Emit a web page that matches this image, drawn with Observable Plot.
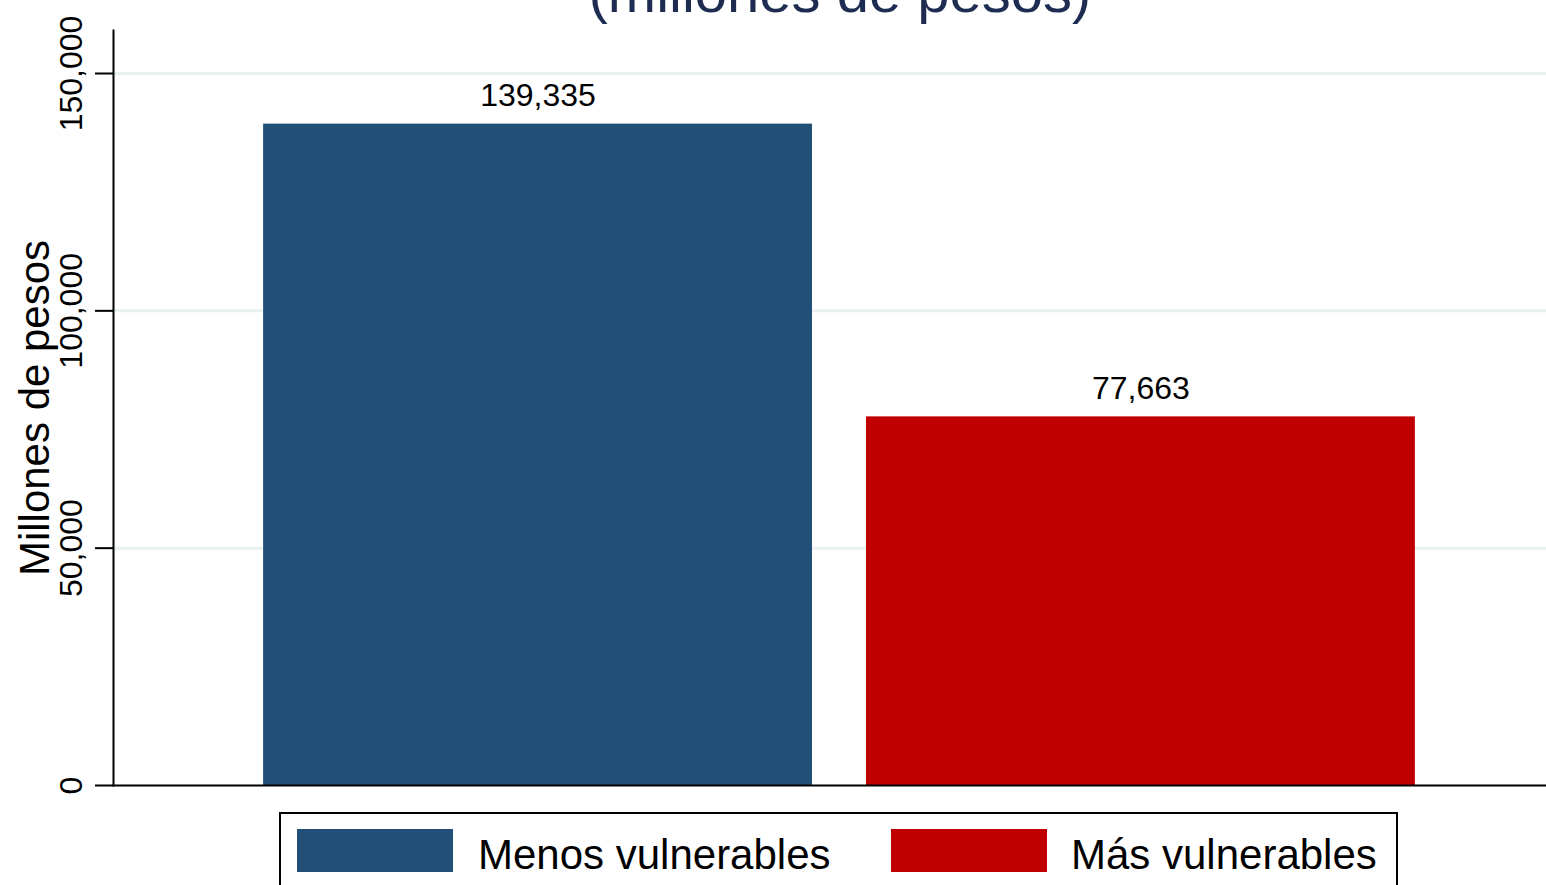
<!DOCTYPE html>
<html>
<head>
<meta charset="utf-8">
<script src="https://cdn.jsdelivr.net/npm/d3@7"></script>
<script src="https://cdn.jsdelivr.net/npm/@observablehq/plot@0.6"></script>
<style>
  html, body { margin: 0; padding: 0; background: #fff; overflow: hidden; }
  #wrap { position: relative; width: 1546px; height: 885px; overflow: hidden;
          font-family: "Liberation Sans", Arial, Helvetica, sans-serif; background: #fff; }
  #title { position: absolute; left: 340px; width: 1000px; top: -37px; height: 58px;
           line-height: 58px; font-size: 58px; text-align: center; color: #1e2c51; white-space: nowrap; }
  #chart { position: absolute; left: 0; top: 0; width: 1565px; }
  #chart svg { max-width: none !important; }
  #legend { position: absolute; left: 279px; top: 812px; width: 1119px; height: 110px;
            box-sizing: border-box; border: 2px solid #000; background: #fff; }
  .sw { position: absolute; top: 15px; width: 156px; height: 43px; }
  .lt { position: absolute; top: 19px; height: 43px; line-height: 43px; font-size: 42px; color: #000; white-space: nowrap; }
</style>
</head>
<body>
<div id="wrap">
  <div id="chart"></div>
  <div id="title">(millones de pesos)</div>
  <div id="legend"></div>
</div>
<script>
const categories = ["Menos vulnerables", "Más vulnerables"];
const values = [139335, 77663];
const colors = ["#214f78", "#c00000"];
const yTicks = [0, 50000, 100000, 150000];
const gridTicks = [50000, 100000, 150000];
const yMax = 159060;
const yLabel = "Millones de pesos";

const data = categories.map((c, i) => ({category: c, value: values[i]}));
const fmt = d3.format(",");

const chart = Plot.plot({
  width: 1565,
  height: 800,
  marginLeft: 113,
  marginRight: 0,
  marginTop: 30,
  marginBottom: 15,
  style: {fontFamily: "Liberation Sans, Arial, Helvetica, sans-serif", background: "white", color: "#000", maxWidth: "none"},
  x: {domain: categories, paddingInner: 0.0896, paddingOuter: 0.249, round: false, axis: null},
  y: {domain: [0, yMax], axis: null},
  color: {domain: categories, range: colors},
  marks: [
    Plot.ruleY(gridTicks, {stroke: "#e9f1f3", strokeWidth: 3}),
    Plot.barY(data, {x: "category", y: "value", fill: "category"}),
    Plot.frame({anchor: "left", stroke: "#000", strokeWidth: 2}),
    Plot.frame({anchor: "bottom", stroke: "#000", strokeWidth: 2}),
    Plot.axisY(yTicks, {tickFormat: fmt, tickRotate: -90, tickSize: 18, tickPadding: 14,
                        fontSize: 32, strokeWidth: 2, color: "#000", label: null}),
    Plot.text([yLabel], {frameAnchor: "left", dx: -78, rotate: -90, textAnchor: "middle",
                         fontSize: 42, fill: "#000"}),
    Plot.text(data, {x: "category", y: "value", text: d => fmt(d.value), dy: -18,
                     lineAnchor: "bottom", fontSize: 32, fill: "#000"})
  ]
});
document.getElementById("chart").appendChild(chart);

// legend
const legend = document.getElementById("legend");
const swLeft = [16, 610];
const txLeft = [197, 790];
categories.forEach((c, i) => {
  const sw = document.createElement("div");
  sw.className = "sw";
  sw.style.left = swLeft[i] + "px";
  sw.style.background = colors[i];
  legend.appendChild(sw);
  const t = document.createElement("div");
  t.className = "lt";
  t.style.left = txLeft[i] + "px";
  t.textContent = c;
  legend.appendChild(t);
});
</script>
</body>
</html>
